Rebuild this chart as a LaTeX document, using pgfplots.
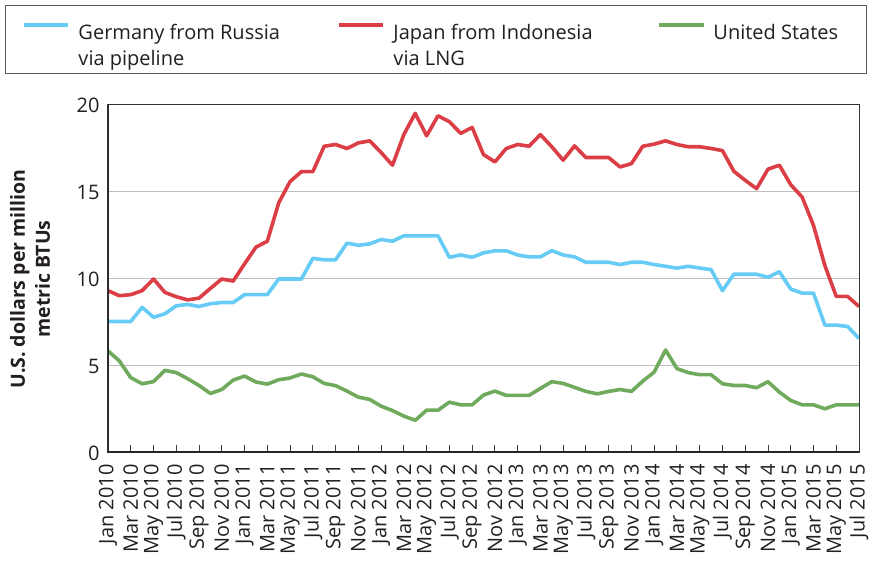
\documentclass[border=0pt]{standalone}
\usepackage{pgfplots}
\pgfplotsset{compat=1.18}
\usepackage{fontspec}
\setmainfont{Open Sans}

\definecolor{gasblue}{RGB}{102,204,245}
\definecolor{gasred}{RGB}{219,62,68}
\definecolor{gasgreen}{RGB}{112,170,92}
\definecolor{txt}{RGB}{35,31,32}

% same height and depth for every legend cell
\newcommand{\topline}{\rule{0pt}{27pt}}
\newcommand{\botline}{\rule[-8pt]{0pt}{8pt}}

\begin{document}
\begin{tikzpicture}
\begin{axis}[
    scale only axis,
    width=751pt, height=348pt,
    xmin=0, xmax=66, ymin=0, ymax=20,
    xtick={0,2,...,66},
    xticklabels={Jan 2010,Mar 2010,May 2010,Jul 2010,Sep 2010,Nov 2010,
        Jan 2011,Mar 2011,May 2011,Jul 2011,Sep 2011,Nov 2011,
        Jan 2012,Mar 2012,May 2012,Jul 2012,Sep 2012,Nov 2012,
        Jan 2013,Mar 2013,May 2013,Jul 2013,Sep 2013,Nov 2013,
        Jan 2014,Mar 2014,May 2014,Jul 2014,Sep 2014,Nov 2014,
        Jan 2015,Mar 2015,May 2015,Jul 2015},
    x tick label style={rotate=90, anchor=east, text=txt, font=\fontsize{20}{22}\selectfont, xshift=-8pt},
    ytick={0,5,10,15,20},
    y tick label style={text=txt, font=\fontsize{20}{22}\selectfont, xshift=-5pt},
    /pgf/number format/assume math mode=true,
    xtick pos=bottom, xtick align=inside, major tick length=8pt,
    x tick style={draw=black!75, line width=0.9pt},
    ytick style={draw=none},
    ymajorgrids, grid style={draw=black!25, line width=1pt},
    axis line style={draw=black!80, line width=1pt},
    axis lines=box,
    ylabel={U.S. dollars per million\\metric BTUs},
    ylabel style={at={(axis description cs:-0.1039,0.5)}, anchor=center, text=txt,
        font=\bfseries\fontsize{19.5}{25}\selectfont, align=center},
    legend columns=3,
    legend style={at={(axis description cs:0,1)}, anchor=north west,
        xshift=-103pt, yshift=100pt, draw=black!65, line width=1pt,
        inner xsep=17pt, inner ysep=7pt, text=txt,
        font=\fontsize{20}{26}\selectfont,
        nodes={inner sep=0pt},
        cells={align=left},
        /tikz/every even column/.append style={column sep=0pt},
        /tikz/every odd column/.append style={column sep=8pt}},
    legend cell align=left,
    legend image code/.code={\draw[line width=4pt] (0pt,15pt) -- (44pt,15pt);},
    every axis plot/.append style={line width=3.6pt, line join=round},
]
\addplot[gasblue] coordinates {
(0,7.56) (1,7.56) (2,7.56) (3,8.37) (4,7.8) (5,8.0) (6,8.46) (7,8.54) (8,8.42) (9,8.58)
(10,8.65) (11,8.65) (12,9.1) (13,9.1) (14,9.1) (15,10.0) (16,10.0) (17,10.0) (18,11.19) (19,11.1)
(20,11.1) (21,12.06) (22,11.94) (23,12.02) (24,12.27) (25,12.17) (26,12.48) (27,12.48) (28,12.48) (29,12.48)
(30,11.25) (31,11.38) (32,11.25) (33,11.5) (34,11.62) (35,11.62) (36,11.38) (37,11.27) (38,11.27) (39,11.63)
(40,11.38) (41,11.27) (42,10.96) (43,10.96) (44,10.96) (45,10.83) (46,10.96) (47,10.96) (48,10.83) (49,10.73)
(50,10.62) (51,10.73) (52,10.63) (53,10.54) (54,9.33) (55,10.27) (56,10.27) (57,10.27) (58,10.1) (59,10.42)
(60,9.42) (61,9.19) (62,9.19) (63,7.35) (64,7.35) (65,7.27) (66,6.58)
};
\addlegendentry{\topline\makebox[259pt][l]{Germany from Russia}\\\botline via pipeline}
\addplot[gasred] coordinates {
(0,9.33) (1,9.04) (2,9.1) (3,9.33) (4,10.0) (5,9.23) (6,8.98) (7,8.8) (8,8.9) (9,9.46)
(10,10.0) (11,9.88) (12,10.87) (13,11.83) (14,12.17) (15,14.37) (16,15.6) (17,16.17) (18,16.17) (19,17.63)
(20,17.73) (21,17.5) (22,17.82) (23,17.94) (24,17.27) (25,16.54) (26,18.3) (27,19.52) (28,18.23) (29,19.38)
(30,19.04) (31,18.37) (32,18.71) (33,17.15) (34,16.73) (35,17.5) (36,17.73) (37,17.63) (38,18.3) (39,17.6)
(40,16.83) (41,17.65) (42,16.98) (43,16.98) (44,16.98) (45,16.44) (46,16.63) (47,17.63) (48,17.75) (49,17.94)
(50,17.73) (51,17.6) (52,17.6) (53,17.5) (54,17.38) (55,16.19) (56,15.67) (57,15.19) (58,16.31) (59,16.54)
(60,15.42) (61,14.71) (62,13.08) (63,10.77) (64,9.0) (65,9.0) (66,8.42)
};
\addlegendentry{\topline\makebox[264pt][l]{Japan from Indonesia}\\\botline via LNG}
\addplot[gasgreen] coordinates {
(0,5.87) (1,5.29) (2,4.33) (3,3.98) (4,4.1) (5,4.75) (6,4.62) (7,4.27) (8,3.88) (9,3.42)
(10,3.65) (11,4.19) (12,4.42) (13,4.08) (14,3.96) (15,4.21) (16,4.31) (17,4.54) (18,4.38) (19,4.0)
(20,3.87) (21,3.56) (22,3.21) (23,3.08) (24,2.69) (25,2.44) (26,2.12) (27,1.88) (28,2.46) (29,2.46)
(30,2.92) (31,2.77) (32,2.77) (33,3.33) (34,3.56) (35,3.31) (36,3.31) (37,3.31) (38,3.71) (39,4.1)
(40,4.0) (41,3.77) (42,3.54) (43,3.4) (44,3.54) (45,3.65) (46,3.54) (47,4.13) (48,4.65) (49,5.92)
(50,4.85) (51,4.62) (52,4.5) (53,4.5) (54,3.98) (55,3.88) (56,3.88) (57,3.75) (58,4.1) (59,3.5)
(60,3.02) (61,2.77) (62,2.77) (63,2.54) (64,2.77) (65,2.77) (66,2.77)
};
\addlegendentry{\topline\makebox[136pt][l]{United States}\\\botline\mbox{}}
\draw[black!85, line width=3pt] (rel axis cs:0,0) -- (rel axis cs:0,1);
\draw[black!85, line width=3pt] (rel axis cs:0,0) -- (rel axis cs:1,0);
\end{axis}
\pgfresetboundingbox
\path ([xshift=-108pt,yshift=-108pt]current axis.south west) rectangle ([xshift=10pt,yshift=105pt]current axis.north east);
\end{tikzpicture}
\end{document}
